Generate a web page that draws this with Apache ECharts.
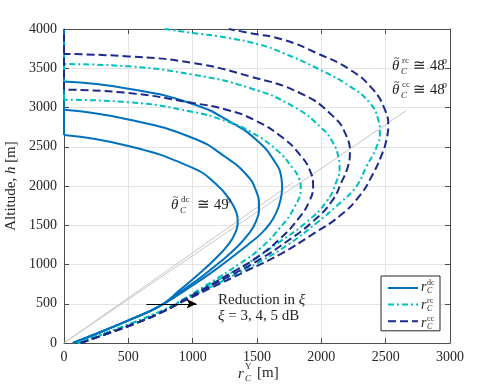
<!DOCTYPE html>
<html>
<head>
<meta charset="utf-8">
<script src="https://cdn.jsdelivr.net/npm/echarts@6/dist/echarts.min.js"></script>
<style>
  html, body { margin: 0; padding: 0; background: #fff; }
  #chart { width: 498px; height: 386px; }
</style>
</head>
<body>
<div id="chart"></div>
<script>
// tick labels
const xTicks = [0, 500, 1000, 1500, 2000, 2500, 3000];
const yTicks = [0, 500, 1000, 1500, 2000, 2500, 3000, 3500, 4000];

// r [m], h [m] pairs, xi = 5, 4, 3 dB
const dc1 = [[70,0],[300,150],[510,295],[744,470],[905,680],[1070,910],[1180,1080],[1270,1240],[1330,1400],[1350,1560],[1340,1660],[1290,1820],[1185,2020],[1000,2230],[500,2510],[0,2650]];
const dc2 = [[70,0],[300,150],[510,295],[744,470],[930,680],[1090,870],[1220,1040],[1330,1200],[1425,1370],[1490,1540],[1516,1740],[1490,1950],[1420,2140],[1263,2360],[1000,2612],[500,2848],[0,2970]];
const dc3 = [[70,0],[300,150],[510,295],[744,470],[950,680],[1140,890],[1280,1060],[1420,1240],[1530,1390],[1600,1520],[1650,1660],[1682,1820],[1695,1980],[1690,2100],[1630,2330],[1500,2580],[1300,2810],[1000,3045],[500,3240],[0,3330]];

const rc1 = [[110,0],[330,130],[540,260],[760,410],[900,530],[1060,690],[1215,850],[1366,1010],[1522,1200],[1677,1465],[1794,1740],[1840,1980],[1830,2080],[1781,2220],[1652,2460],[1444,2696],[1263,2823],[1003,2943],[500,3068],[0,3100]];
const rc2 = [[110,0],[330,130],[540,260],[760,410],[920,550],[1085,700],[1260,860],[1444,1030],[1677,1290],[1885,1540],[2040,1800],[2118,2060],[2142,2230],[2131,2380],[2092,2548],[2002,2739],[1781,3014],[1444,3248],[1003,3418],[500,3524],[0,3554]];
const rc3 = [[110,0],[330,130],[540,260],[760,410],[930,545],[1110,690],[1300,845],[1500,1015],[1729,1240],[1963,1529],[2144,1783],[2273,1995],[2351,2250],[2425,2480],[2455,2675],[2442,2845],[2377,3057],[2222,3269],[1963,3503],[1703,3694],[1522,3800],[1263,3890],[1003,3949],[783,4000]];

const cc1 = [[130,0],[345,125],[555,250],[770,400],[990,600],[1180,780],[1340,930],[1500,1090],[1680,1330],[1820,1580],[1905,1800],[1936,2000],[1911,2200],[1833,2399],[1703,2611],[1480,2840],[1263,2972],[1003,3057],[500,3185],[0,3227]];
const cc2 = [[130,0],[345,125],[555,250],[770,400],[930,545],[1110,700],[1300,865],[1496,1040],[1729,1290],[1936,1550],[2079,1800],[2160,2060],[2205,2240],[2222,2420],[2196,2632],[2092,2887],[1833,3185],[1444,3396],[1003,3567],[500,3651],[0,3682]];
const cc3 = [[130,0],[345,125],[555,250],[770,400],[945,545],[1135,695],[1400,905],[1690,1140],[1936,1390],[2144,1620],[2300,1880],[2400,2150],[2465,2380],[2505,2580],[2520,2780],[2494,2972],[2403,3227],[2222,3482],[1963,3694],[1703,3864],[1444,3949],[1280,4000]];

// segments along r = 0 up to the top of the plot
const dcAxis = [[0,2650],[0,4000]];
const rcAxis = [[0,3100],[0,4000]];
const ccAxis = [[0,3227],[0,4000]];

// elevation angle guides
const angleDc = [[0,0],[1780,2048]];
const angleRc = [[0,0],[2660,2960]];

const arrowFrom = [640, 500];
const arrowTo = [1030, 500];

const FONT = "'Liberation Serif', 'DejaVu Serif', serif";
const INK = '#262626';
const AX = '#4d4d4d';
const GRID = '#e4e4e4';
const BLUE = '#0072BD';
const CYAN = '#00BFBF';
const NAVY = '#1B2A8C';
const DASH = [8, 4];
const DASHDOT = [6, 3, 2, 3];
const SMOOTH = 0.5;

const chart = echarts.init(document.getElementById('chart'));

function curve(name, data, color, type, smooth) {
  return {
    name: name,
    type: 'line',
    data: data,
    smooth: smooth,
    showSymbol: false,
    symbol: 'none',
    silent: true,
    z: 3,
    itemStyle: {color: color},
    lineStyle: {color: color, width: 2, type: type}
  };
}

function guide(data) {
  return {
    type: 'line',
    data: data,
    showSymbol: false,
    symbol: 'none',
    silent: true,
    z: 2,
    lineStyle: {color: '#c6c6c6', width: 1}
  };
}

function txt(x, y, s, size, italic) {
  return {
    type: 'text',
    x: x,
    y: y,
    silent: true,
    z: 100,
    style: {
      text: s,
      fontSize: size,
      fontStyle: italic ? 'italic' : 'normal',
      fontFamily: FONT,
      fill: INK,
      align: 'left',
      verticalAlign: 'middle'
    }
  };
}

// theta~_C^tag ≅ NN^o
function thetaLabel(x, y, tag, deg, gap) {
  return [
    txt(x, y, 'θ', 15, true),
    txt(x + 2, y - 8, '~', 10, false),
    txt(x + 9, y + 6, 'C', 9, true),
    txt(x + 10, y - 5, tag, 9, false),
    txt(x + gap, y, '≅ ' + deg, 15, false),
    txt(x + gap + 29, y - 5, 'o', 10, true)
  ];
}

function legendLabel(x, y, tag) {
  return [
    txt(x, y, 'r', 14, true),
    txt(x + 6, y + 4, 'C', 8, true),
    txt(x + 6, y - 4, tag, 8, false)
  ];
}

const graphics = [].concat(
  thetaLabel(171, 205, 'dc', '49', 26),
  thetaLabel(392, 66, 'rc', '48', 21),
  thetaLabel(392, 90, 'cc', '48', 21),
  legendLabel(421, 287, 'dc'),
  legendLabel(421, 305, 'rc'),
  legendLabel(421, 323, 'cc'),
  [
    txt(238, 374, 'r', 15, true),
    txt(245, 379, 'C', 9, true),
    txt(245, 367, 'Y', 9, false),
    txt(257, 373, '[m]', 15, false),
    {
      type: 'text', x: 218, y: 300, silent: true, z: 100,
      style: {
        text: '{n|Reduction in }{i|ξ}',
        fill: INK, align: 'left', verticalAlign: 'middle',
        rich: {
          n: {fontSize: 15, fontFamily: FONT, fill: INK},
          i: {fontSize: 15, fontFamily: FONT, fontStyle: 'italic', fill: INK}
        }
      }
    },
    {
      type: 'text', x: 218, y: 316, silent: true, z: 100,
      style: {
        text: '{i|ξ}{n| = 3, 4, 5 dB}',
        fill: INK, align: 'left', verticalAlign: 'middle',
        rich: {
          n: {fontSize: 15, fontFamily: FONT, fill: INK},
          i: {fontSize: 15, fontFamily: FONT, fontStyle: 'italic', fill: INK}
        }
      }
    }
  ]
);

const axisCommon = {
  type: 'value',
  axisLine: {show: true, onZero: false, lineStyle: {color: AX, width: 1}},
  axisTick: {show: true, inside: true, length: 5, lineStyle: {color: AX}},
  splitLine: {show: false}
};

const tickFmt = v => String(v);

const option = {
  animation: false,
  backgroundColor: '#fff',
  grid: {left: 64, right: 48, top: 29, bottom: 43, containLabel: false, outerBoundsMode: 'none'},
  legend: {
    data: ['dc', 'rc', 'cc'],
    orient: 'vertical',
    left: 381,
    top: 276,
    itemWidth: 30,
    itemHeight: 14,
    itemGap: 4,
    padding: [5, 21, 4, 6],
    backgroundColor: '#fff',
    borderColor: INK,
    borderWidth: 1,
    borderRadius: 0,
    selectedMode: false,
    formatter: () => '',
    itemStyle: {opacity: 0},
    textStyle: {fontSize: 12}
  },
  xAxis: [
    Object.assign({}, axisCommon, {
      min: xTicks[0], max: xTicks[xTicks.length - 1], interval: xTicks[1] - xTicks[0],
      position: 'bottom',
      axisLabel: {color: INK, fontSize: 14, fontFamily: FONT, margin: 7, formatter: tickFmt},
      splitLine: {show: true, lineStyle: {color: GRID, width: 1}}
    }),
    Object.assign({}, axisCommon, {
      min: xTicks[0], max: xTicks[xTicks.length - 1], interval: xTicks[1] - xTicks[0],
      position: 'top',
      axisLabel: {show: false}
    })
  ],
  yAxis: [
    Object.assign({}, axisCommon, {
      min: yTicks[0], max: yTicks[yTicks.length - 1], interval: yTicks[1] - yTicks[0],
      position: 'left',
      axisLabel: {color: INK, fontSize: 14, fontFamily: FONT, margin: 7, formatter: tickFmt},
      splitLine: {show: true, lineStyle: {color: GRID, width: 1}},
      name: 'Altitude, {i|h} [m]',
      nameLocation: 'middle',
      nameGap: 38,
      nameTextStyle: {
        color: INK, fontSize: 15, fontFamily: FONT,
        rich: {i: {fontStyle: 'italic', fontSize: 15, fontFamily: FONT, color: INK}}
      }
    }),
    Object.assign({}, axisCommon, {
      min: yTicks[0], max: yTicks[yTicks.length - 1], interval: yTicks[1] - yTicks[0],
      position: 'right',
      axisLabel: {show: false}
    })
  ],
  graphic: graphics,
  series: [
    guide(angleDc),
    Object.assign(guide(angleRc), {
      markLine: {
        silent: true,
        symbol: ['none', 'arrow'],
        symbolSize: [7, 10],
        label: {show: false},
        lineStyle: {color: '#000', width: 1, type: 'solid'},
        data: [[{coord: arrowFrom}, {coord: arrowTo}]]
      }
    }),
    curve('dc', dcAxis, BLUE, 'solid', false),
    curve('dc', dc1, BLUE, 'solid', SMOOTH),
    curve('dc', dc2, BLUE, 'solid', SMOOTH),
    curve('dc', dc3, BLUE, 'solid', SMOOTH),
    curve('rc', rcAxis, CYAN, DASHDOT, false),
    curve('rc', rc1, CYAN, DASHDOT, SMOOTH),
    curve('rc', rc2, CYAN, DASHDOT, SMOOTH),
    curve('rc', rc3, CYAN, DASHDOT, SMOOTH),
    curve('cc', ccAxis, NAVY, DASH, false),
    curve('cc', cc1, NAVY, DASH, SMOOTH),
    curve('cc', cc2, NAVY, DASH, SMOOTH),
    curve('cc', cc3, NAVY, DASH, SMOOTH)
  ]
};

chart.setOption(option);
</script>
</body>
</html>
